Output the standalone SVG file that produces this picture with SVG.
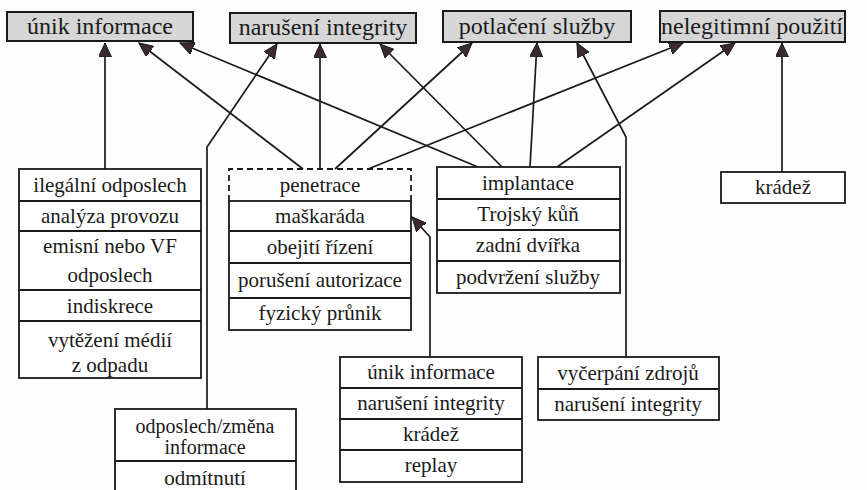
<svg xmlns="http://www.w3.org/2000/svg" width="867" height="490" viewBox="0 0 867 490">
<style>
.bg{fill:#fdfdfd}
.top{fill:#d6d6d6;stroke:#1a1a1a;stroke-width:2}
.box{fill:#ffffff;stroke:#1a1a1a;stroke-width:1.8}
.div{stroke:#1a1a1a;stroke-width:1.8;fill:none}
.dash{stroke:#1a1a1a;stroke-width:1.8;fill:none;stroke-dasharray:6,4}
text{font-family:'Liberation Serif','Times New Roman',serif;fill:#1a1a1a;text-anchor:middle}
.t{font-size:21px}
.ts{font-size:20px}
.tt{font-size:24px}
.c{stroke:#1a1a1a;stroke-width:1.7;fill:none}
</style>
<defs>
<marker id="ah" markerUnits="userSpaceOnUse" markerWidth="15" markerHeight="13" refX="14" refY="6.5" orient="auto">
<path d="M0,0 L14,6.5 L0,13 z" fill="#3a2a30" stroke="#1a1a1a" stroke-width="1"/>
</marker>
</defs>
<rect class="bg" x="0" y="0" width="867" height="490"/>

<g id="connectors">
<path class="c" marker-end="url(#ah)" d="M105,169 L105,43"/>
<path class="c" marker-end="url(#ah)" d="M303,169 L139,43"/>
<path class="c" marker-end="url(#ah)" d="M478,167 L180,43"/>
<path class="c" marker-end="url(#ah)" d="M207,409 L207,147 L277,44"/>
<path class="c" marker-end="url(#ah)" d="M320,169 L320,44"/>
<path class="c" marker-end="url(#ah)" d="M502,167 L380,44"/>
<path class="c" marker-end="url(#ah)" d="M335,169 L472,43"/>
<path class="c" marker-end="url(#ah)" d="M530,167 L537,43"/>
<path class="c" marker-end="url(#ah)" d="M626,357 L626,137 L577,43"/>
<path class="c" marker-end="url(#ah)" d="M368,169 L683,43"/>
<path class="c" marker-end="url(#ah)" d="M557,167 L735,43"/>
<path class="c" marker-end="url(#ah)" d="M782,172 L782,43"/>
<path class="c" marker-end="url(#ah)" d="M430,357 L430,237 L412,217"/>
</g>

<g id="t1"><rect class="top" x="7" y="12" width="186" height="29"/><text class="tt" x="100" y="34">únik informace</text></g>
<g id="t2"><rect class="top" x="230" y="13" width="186" height="30"/><text class="tt" x="323" y="35">narušení integrity</text></g>
<g id="t3"><rect class="top" x="443" y="11" width="188" height="31"/><text class="tt" x="537" y="34">potlačení služby</text></g>
<g id="t4"><rect class="top" x="660" y="11" width="185" height="31"/><text class="tt" x="752" y="34">nelegitimní použití</text></g>

<g id="odposlech">
<rect class="box" x="19" y="169" width="182" height="209"/>
<path class="div" d="M19,201 H201 M19,231 H201 M19,290 H201 M19,321 H201"/>
<text class="t" x="110" y="192">ilegální odposlech</text>
<text class="t" x="110" y="223">analýza provozu</text>
<text class="t" x="110" y="253">emisní nebo VF</text>
<text class="t" x="110" y="282">odposlech</text>
<text class="t" x="110" y="313">indiskrece</text>
<text class="t" x="110" y="347">vytěžení médií</text>
<text class="t" x="110" y="372">z odpadu</text>
</g>

<g id="penetrace">
<rect class="box" x="229" y="201" width="182" height="129"/>
<path class="dash" d="M229,201 V169 H411 V201"/>
<path class="div" d="M229,231 H411 M229,263 H411 M229,298 H411"/>
<text class="t" x="320" y="192">penetrace</text>
<text class="t" x="320" y="223">maškaráda</text>
<text class="t" x="320" y="254">obejití řízení</text>
<text class="t" x="320" y="287">porušení autorizace</text>
<text class="t" x="320" y="320">fyzický průnik</text>
</g>

<g id="implantace">
<rect class="box" x="437" y="167" width="183" height="126"/>
<path class="div" d="M437,199 H620 M437,230 H620 M437,261 H620"/>
<text class="t" x="528" y="190">implantace</text>
<text class="t" x="528" y="221">Trojský kůň</text>
<text class="t" x="528" y="252">zadní dvířka</text>
<text class="t" x="528" y="284">podvržení služby</text>
</g>

<g id="kradez">
<rect class="box" x="721" y="172" width="124" height="31"/>
<text class="t" x="783" y="194">krádež</text>
</g>

<g id="zmena">
<rect class="box" x="115" y="409" width="181" height="90"/>
<path class="div" d="M115,461 H296"/>
<text class="ts" x="205" y="433">odposlech/změna</text>
<text class="ts" x="205" y="454">informace</text>
<text class="t" x="205" y="485">odmítnutí</text>
</g>

<g id="dalsi">
<rect class="box" x="340" y="357" width="182" height="125"/>
<path class="div" d="M340,388 H522 M340,419 H522 M340,450 H522"/>
<text class="t" x="431" y="379">únik informace</text>
<text class="t" x="431" y="410">narušení integrity</text>
<text class="t" x="431" y="441">krádež</text>
<text class="t" x="431" y="472">replay</text>
</g>

<g id="vycerpani">
<rect class="box" x="538" y="357" width="181" height="63"/>
<path class="div" d="M538,389 H719"/>
<text class="t" x="628" y="380">vyčerpání zdrojů</text>
<text class="t" x="628" y="411">narušení integrity</text>
</g>
</svg>
